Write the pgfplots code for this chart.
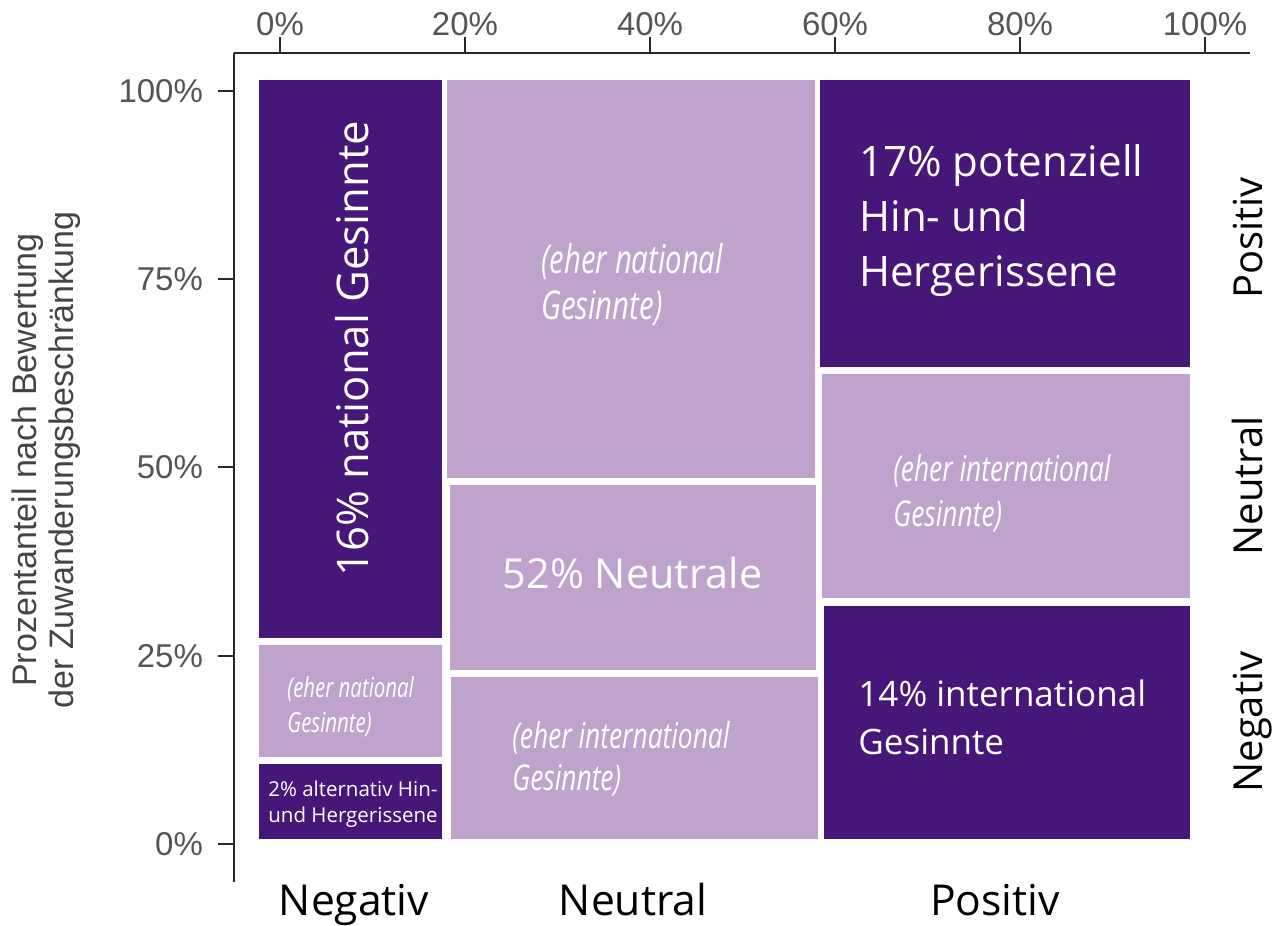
\documentclass[border=0pt]{standalone}
\usepackage{pgfplots}
\pgfplotsset{compat=1.18}
\usepackage{fontspec}
\setmainfont{Open Sans}
\newfontfamily\tickfont{Liberation Sans}
\newfontfamily\condit{Open Sans}[FakeStretch=0.74]
\definecolor{dk}{RGB}{69,23,120}
\definecolor{lt}{RGB}{192,163,205}
\definecolor{tk}{RGB}{85,85,85}
\definecolor{ax}{RGB}{40,40,40}
\definecolor{yl}{RGB}{68,68,68}
\begin{document}
\begin{tikzpicture}
\begin{axis}[
  scale only axis, width=508pt, height=414.5pt,
  xmin=-4.973, xmax=104.865, ymin=-5.046, ymax=105.046,
  axis x line=top, axis y line=left,
  axis line style={-, draw=ax, line width=1pt},
  xtick={0,20,40,60,80,100}, xticklabels={0\%,20\%,40\%,60\%,80\%,100\%},
  ytick={0,25,50,75,100}, yticklabels={0\%,25\%,50\%,75\%,100\%},
  tick align=outside, major tick length=8pt,
  tick style={draw=ax, line width=1pt},
  ticklabel style={font=\tickfont\fontsize{16.5}{19}\selectfont, text=tk},
  xticklabel style={yshift=-3pt},
  yticklabel style={xshift=-4pt},
  clip=false,
]
% Negativ column
\addplot[fill=dk, draw=none] coordinates {(-2.22,27.36) (17.51,27.36) (17.51,101.46) (-2.22,101.46)};
\addplot[fill=lt, draw=none] coordinates {(-2.22,11.55) (17.51,11.55) (17.51,26.43) (-2.22,26.43)};
\addplot[fill=dk, draw=none] coordinates {(-2.22,0.66) (17.51,0.66) (17.51,10.62) (-2.22,10.62)};
% Neutral column
\addplot[fill=lt, draw=none] coordinates {(18.05,48.61) (57.84,48.61) (57.84,101.46) (18.05,101.46)};
\addplot[fill=lt, draw=none] coordinates {(18.38,23.11) (57.95,23.11) (57.95,47.68) (18.38,47.68)};
\addplot[fill=lt, draw=none] coordinates {(18.49,0.60) (58.11,0.60) (58.11,22.18) (18.49,22.18)};
% Positiv column
\addplot[fill=dk, draw=none] coordinates {(58.38,63.35) (98.38,63.35) (98.38,101.46) (58.38,101.46)};
\addplot[fill=lt, draw=none] coordinates {(58.59,32.67) (98.38,32.67) (98.38,62.42) (58.59,62.42)};
\addplot[fill=dk, draw=none] coordinates {(58.76,0.60) (98.38,0.60) (98.38,31.61) (58.76,31.61)};

% texts in boxes
\node[rotate=90, text=white, inner sep=0, font=\fontsize{21.8}{25}\selectfont] at (axis cs:7.78,65.74) {16\% national Gesinnte};
\node[anchor=west, align=left, text=white, inner sep=0, font=\condit\itshape\fontsize{13.8}{17.5}\selectfont] at (axis cs:0.76,18.26) {(eher national\\Gesinnte)};
\node[anchor=west, align=left, text=white, inner sep=0, font=\fontsize{10.25}{13}\selectfont] at (axis cs:-1.30,5.29) {2\% alternativ Hin-\\und Hergerissene};
\node[anchor=west, align=left, text=white, inner sep=0, font=\condit\itshape\fontsize{19.8}{23}\selectfont] at (axis cs:28.22,74.24) {(eher national\\Gesinnte)};
\node[text=white, inner sep=0, font=\fontsize{20.7}{25}\selectfont] at (axis cs:38.11,35.99) {52\% Neutrale};
\node[anchor=west, align=left, text=white, inner sep=0, font=\condit\itshape\fontsize{17.8}{21}\selectfont] at (axis cs:25.08,11.29) {(eher international\\Gesinnte)};
\node[anchor=west, align=left, text=white, inner sep=0, font=\fontsize{21}{27.5}\selectfont] at (axis cs:62.59,82.74) {17\% potenziell\\Hin- und\\Hergerissene};
\node[anchor=west, align=left, text=white, inner sep=0, font=\condit\itshape\fontsize{17.8}{22.5}\selectfont] at (axis cs:66.27,46.61) {(eher international\\Gesinnte)};
\node[anchor=west, align=left, text=white, inner sep=0, font=\fontsize{17.5}{24}\selectfont] at (axis cs:62.49,16.77) {14\% international\\Gesinnte};

% category labels bottom
\node[anchor=base, inner sep=0, font=\fontsize{21.3}{25}\selectfont] at (axis cs:8.0,-9.43) {Negativ};
\node[anchor=base, inner sep=0, font=\fontsize{21.3}{25}\selectfont] at (axis cs:38.16,-9.43) {Neutral};
\node[anchor=base, inner sep=0, font=\fontsize{21.3}{25}\selectfont] at (axis cs:77.3,-9.43) {Positiv};
% category labels right
\node[rotate=90, anchor=base, inner sep=0, font=\fontsize{20}{24}\selectfont] at (axis cs:106.16,80.48) {Positiv};
\node[rotate=90, anchor=base, inner sep=0, font=\fontsize{20}{24}\selectfont] at (axis cs:106.16,47.54) {Neutral};
\node[rotate=90, anchor=base, inner sep=0, font=\fontsize{20}{24}\selectfont] at (axis cs:106.16,16.2) {Negativ};
% y label
\node[rotate=90, align=center, inner sep=0, text=yl, font=\tickfont\fontsize{17}{18.5}\selectfont] at (axis cs:-25.3,51.0) {Prozentanteil nach Bewertung\\der Zuwanderungsbeschränkung};

\coordinate (BL) at (axis cs:-30.27,-10.76);
\coordinate (TR) at (axis cs:108.32,112.08);
\end{axis}
\pgfresetboundingbox
\path (BL) rectangle (TR);
\end{tikzpicture}
\end{document}
